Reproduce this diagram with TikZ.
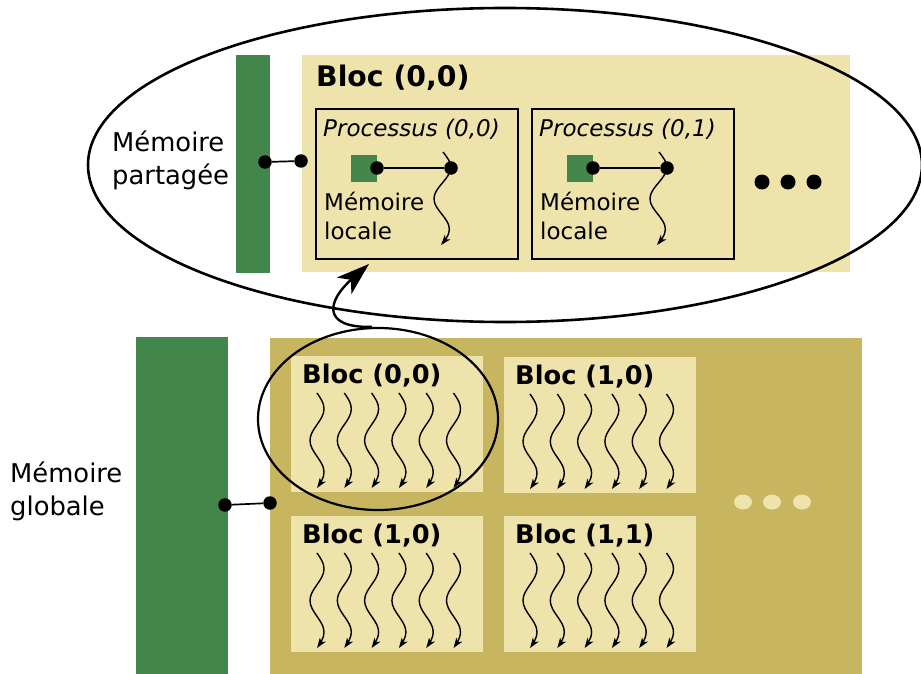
\documentclass[tikz,border=0pt]{standalone}
\usepackage{fontspec}
\setmainfont{DejaVu Sans}
\usetikzlibrary{shapes.geometric,arrows.meta}
\definecolor{memgreen}{RGB}{66,134,75}
\definecolor{blocklight}{RGB}{239,227,172}
\definecolor{griddark}{RGB}{200,181,96}
\tikzset{
  greenbar/.style={fill=memgreen,draw=none,inner sep=0pt},
  lightbg/.style={fill=blocklight,draw=none,inner sep=0pt},
  darkbg/.style={fill=griddark,draw=none,inner sep=0pt},
  procbox/.style={draw=black,line width=1.8pt,fill=blocklight,inner sep=0pt},
  lbl/.style={anchor=west,inner sep=0pt,font=\fontsize{23}{27}\selectfont},
  biglbl/.style={anchor=west,inner sep=0pt,align=left,font=\fontsize{25.8}{33}\selectfont},
  bloclbl/.style={anchor=west,inner sep=0pt,font=\fontsize{25.7}{30}\selectfont\bfseries},
  toplbl/.style={anchor=west,inner sep=0pt,font=\fontsize{28.3}{32}\selectfont\bfseries},
  wave/.style={line width=1.4pt,-{Stealth[length=10pt,width=7pt,inset=2.5pt]}},
  dotc/.style={circle,fill=black,inner sep=0pt,minimum size=13.5pt},
  link/.style={line width=1.7pt},
  outline/.style={draw=black,line width=2.6pt,ellipse,inner sep=0pt},
}
\begin{document}
\begin{tikzpicture}[x=1pt,y=-1pt]
\useasboundingbox (0,0) rectangle (921,674);
\fill[white] (0,0) rectangle (921,674);

% ---------- shared memory of one block ----------
\node[greenbar,minimum width=34pt,minimum height=218pt] (sbar) at (253,164) {};
\node[lightbg,minimum width=548pt,minimum height=217pt] (sblk) at (576,163.5) {};
\node[toplbl] (sblkl) at (316,78) {Bloc (0,0)};
\node[biglbl] (smem) at (112,160) {Mémoire\\partagée};

\node[dotc] (sd1) at (265,162) {};
\node[dotc] (sd2) at (301,161) {};
\draw[link] (sd1) -- (sd2);

% threads of the block
\foreach \px/\pn in {315/p1,531/p2}{
  \node[procbox,minimum width=202pt,minimum height=150pt,anchor=north west] (\pn) at (\px,108) {};
  \node[lbl,font=\fontsize{23}{27}\selectfont\itshape] at (\px+8,129) {Processus (0,\ifnum\px=315 0\else 1\fi)};
  \node[greenbar,minimum width=26pt,minimum height=27pt] (\pn sq) at (\px+49,168.5) {};
  \node[dotc] (\pn a) at (\px+62,168) {};
  \node[dotc] (\pn b) at (\px+136,168) {};
  \draw[link] (\pn a) -- (\pn b);
  \draw[wave] plot[smooth,samples=25,domain=0:1,variable=\t]
    ({\px+128-2*\t+8*sin(540*\t)},{152+93*\t});
  \node[lbl] at (\px+9,201) {Mémoire};
  \node[lbl] at (\px+9,231) {locale};
}
\foreach \dx in {762,788,814}
  \fill (\dx,182) circle (7.5);

\node[outline,minimum width=834pt,minimum height=314pt] (sellipse) at (505,165) {};

% ---------- global memory and grid ----------
\node[greenbar,minimum width=92pt,minimum height=337pt,anchor=north west] (gbar) at (136,337) {};
\node[darkbg,minimum width=592pt,minimum height=336pt,anchor=north west] (grid) at (270,338) {};
\node[biglbl] (gmem) at (10,491) {Mémoire\\globale};

\node[dotc] (gd1) at (225,505) {};
\node[dotc] (gd2) at (270,503) {};
\draw[link] (gd1) -- (gd2);

\foreach \bx/\by/\bl in {291/356/{(0,0)},504/357/{(1,0)},291/516/{(1,0)},504/516/{(1,1)}}{
  \node[lightbg,minimum width=192pt,minimum height=136pt,anchor=north west] at (\bx,\by) {};
  \node[bloclbl] at (\bx+11,\by+20) {Bloc \bl};
  \foreach \i in {0,...,5}
    \draw[wave] plot[smooth,samples=25,domain=0:1,variable=\t]
      ({\bx+26+27.3*\i+7*sin(540*\t)},{\by+37+95*\t});
}
\foreach \dx in {743,772,802}
  \fill[blocklight] (\dx,502) ellipse (9 and 7.5);

% zoom from the grid block to the shared memory view
\node[outline,line width=2.2pt,minimum width=240pt,minimum height=182pt] (zoom) at (378,419) {};
\coordinate (ztip) at (369,264);
\draw[line width=2.4pt,-{Stealth[length=33pt,width=22pt,inset=9pt]}]
  ([xshift=-6pt]zoom.north) .. controls (320,328) and (328,300) .. (ztip);
\end{tikzpicture}
\end{document}
